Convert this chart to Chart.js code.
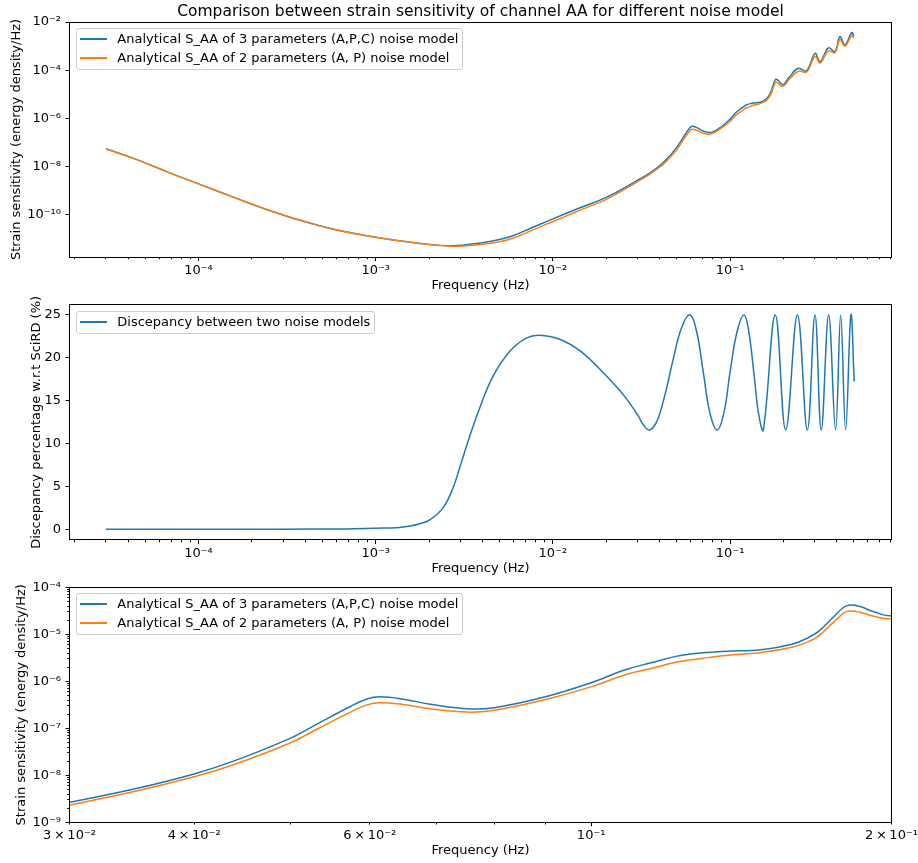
<!DOCTYPE html>
<html lang="en">
<head>
  <meta charset="UTF-8">
  <title>Strain sensitivity of channel AA</title>
  <script src="https://cdn.jsdelivr.net/npm/chart.js"></script>
  <style>
    body { margin: 0; background: #fff; font-family: 'DejaVu Sans', sans-serif; }
    #fig { position: relative; width: 918px; height: 863px; }
    canvas { position: absolute; left: 0; }
    .legend { position: absolute; left: 76px; box-sizing: border-box; border: 1px solid #ccc; border-radius: 3px; background: rgba(255,255,255,0.8); padding: 0 4px 2px 3px; z-index: 2; }
    .legend .item { display: flex; align-items: center; height: 19px; white-space: nowrap; font-size: 13px; color: #000; }
    .legend .item i { display: block; width: 27px; height: 2px; margin-right: 10.3px; }
  </style>
</head>
<body>
  <div id="fig">
    <canvas id="c1" width="918" height="295" style="top:0"></canvas>
    <canvas id="c2" width="918" height="283" style="top:295px"></canvas>
    <canvas id="c3" width="918" height="285" style="top:578px"></canvas>
    <div class="legend" id="lg1" style="top:28px"></div>
    <div class="legend" id="lg2" style="top:311px"></div>
    <div class="legend" id="lg3" style="top:593px"></div>
  </div>

  <script>
    // frequency grid (Hz)
    const freq = [3e-5, 4.3e-5, 6.6e-5, 1e-4, 1.57e-4, 2.4e-4, 3.7e-4, 5.7e-4, 1e-3, 1.7e-3,
      2.7e-3, 4e-3, 5e-3, 6e-3, 7.5e-3, 1e-2, 1.4e-2, 2e-2, 3e-2, 3.5e-2,
      4e-2, 4.38e-2, 4.99e-2, 5.31e-2, 5.73e-2, 5.96e-2, 6.14e-2, 6.5e-2, 6.9e-2, 7.5e-2,
      8e-2, 9e-2, 0.1, 0.108, 0.1151, 0.1216, 0.1259, 0.131, 0.1365, 0.148,
      0.159, 0.1646, 0.169, 0.175, 0.179, 0.1813, 0.186, 0.192, 0.2, 0.215,
      0.243, 0.27, 0.302, 0.322, 0.359, 0.39, 0.417, 0.445, 0.486, 0.5];

    // S_AA, 3 parameter model (A,P,C)
    const saa3 = [5.50e-8, 2.19e-8, 6.17e-9, 1.91e-9, 5.37e-10, 1.70e-10, 6.03e-11, 2.57e-11, 1.17e-11, 6.76e-12,
      5.13e-12, 6.92e-12, 9.33e-12, 1.38e-11, 2.75e-11, 6.76e-11, 1.86e-10, 5.25e-10, 2.67e-9, 5.25e-9,
      1.07e-8, 2.00e-8, 6.12e-8, 1.23e-7, 2.88e-7, 4.20e-7, 4.68e-7, 4.12e-7, 3.24e-7, 2.60e-7,
      2.75e-7, 4.68e-7, 9.33e-7, 1.74e-6, 2.51e-6, 3.39e-6, 3.80e-6, 4.12e-6, 4.37e-6, 4.68e-6,
      6.17e-6, 8.22e-6, 1.15e-5, 2.37e-5, 3.72e-5, 4.17e-5, 3.89e-5, 3.02e-5, 2.51e-5, 5.01e-5,
      1.20e-4, 9.33e-5, 5.01e-4, 2.24e-4, 8.51e-4, 5.89e-4, 2.45e-3, 1.12e-3, 3.63e-3, 2.63e-3];

    // S_AA, 2 parameter model (A, P)
    const saa2 = [5.50e-8, 2.19e-8, 6.17e-9, 1.91e-9, 5.37e-10, 1.70e-10, 6.03e-11, 2.57e-11, 1.16e-11, 6.71e-12,
      4.88e-12, 5.92e-12, 7.53e-12, 1.09e-11, 2.14e-11, 5.25e-11, 1.47e-10, 4.33e-10, 2.33e-9, 4.63e-9,
      9.33e-9, 1.67e-8, 4.86e-8, 9.55e-8, 2.18e-7, 3.15e-7, 3.51e-7, 3.17e-7, 2.61e-7, 2.21e-7,
      2.42e-7, 4.09e-7, 7.62e-7, 1.36e-6, 1.90e-6, 2.54e-6, 2.87e-6, 3.19e-6, 3.56e-6, 4.09e-6,
      5.30e-6, 6.82e-6, 9.18e-6, 1.82e-5, 2.80e-5, 3.13e-5, 2.96e-5, 2.42e-5, 2.17e-5, 4.01e-5,
      9.02e-5, 8.26e-5, 3.76e-4, 1.97e-4, 6.38e-4, 5.21e-4, 1.85e-3, 9.93e-4, 2.72e-3, 2.18e-3];

    // discrepancy (%) between the two models
    const freqDisc = [3e-5, 1e-4, 3e-4, 7e-4, 1e-3, 1.36e-3, 1.6e-3, 1.77e-3, 2.02e-3, 2.4e-3,
      2.73e-3, 2.98e-3, 3.39e-3, 3.86e-3, 4.59e-3, 5.7e-3, 7.08e-3, 8.4e-3, 1.1e-2, 1.43e-2,
      1.85e-2, 2.4e-2, 2.73e-2, 3.03e-2, 3.27e-2, 3.5e-2, 3.78e-2, 4.03e-2, 4.39e-2, 4.79e-2,
      5.33e-2, 5.95e-2, 6.48e-2, 7.06e-2, 7.71e-2, 8.45e-2, 9.22e-2, 0.1, 0.1095, 0.12,
      0.1276, 0.1361, 0.1448, 0.154, 0.18, 0.206, 0.24, 0.273, 0.3015, 0.327,
      0.36, 0.394, 0.421, 0.449, 0.481, 0.502];
    const disc = [0, 0, 0.01, 0.05, 0.12, 0.22, 0.42, 0.65, 1.1, 2.5,
      4.8, 7.2, 10.8, 14.1, 17.8, 20.7, 22.25, 22.6, 22.1, 20.75,
      18.6, 16.1, 14.6, 13.2, 12.05, 11.57, 12.2, 13.6, 16.5, 19.9,
      23.5, 24.96, 23.0, 18.3, 13.5, 11.57, 13.5, 18.3, 23.0, 24.96,
      23.0, 18.3, 13.5, 11.57, 24.96, 11.57, 24.96, 11.57, 24.96, 11.57,
      24.96, 11.57, 24.96, 11.57, 24.96, 17.2];

    const seriesNames = ['Analytical S_AA of 3 parameters (A,P,C) noise model',
      'Analytical S_AA of 2 parameters (A, P) noise model'];
    const discName = 'Discepancy between two noise models';

    // tick labels
    const topXTicks = [1e-4, 1e-3, 1e-2, 1e-1];
    const topXLabels = ['10⁻⁴', '10⁻³', '10⁻²', '10⁻¹'];
    const topYTicks = [1e-10, 1e-8, 1e-6, 1e-4, 1e-2];
    const topYLabels = ['10⁻¹⁰', '10⁻⁸', '10⁻⁶', '10⁻⁴', '10⁻²'];
    const midYTicks = [0, 5, 10, 15, 20, 25];
    const midYLabels = ['0', '5', '10', '15', '20', '25'];
    const botXTicks = [0.03, 0.04, 0.06, 0.1, 0.2];
    const botXLabels = ['3\u2009×\u200910⁻²', '4\u2009×\u200910⁻²', '6\u2009×\u200910⁻²', '10⁻¹', '2\u2009×\u200910⁻¹'];
    const botYTicks = [1e-9, 1e-8, 1e-7, 1e-6, 1e-5, 1e-4];
    const botYLabels = ['10⁻⁹', '10⁻⁸', '10⁻⁷', '10⁻⁶', '10⁻⁵', '10⁻⁴'];

    const BLUE = '#1f77b4', ORANGE = '#ff7f0e';
    Chart.defaults.font.family = 'DejaVu Sans';
    Chart.defaults.font.size = 13;
    Chart.defaults.color = '#000';

    const pts = (xs, ys) => xs.map((x, i) => ({ x: x, y: ys[i] }));

    function logMinors(min, max, skip) {
      const out = [];
      for (let e = Math.floor(Math.log10(min)); e <= Math.ceil(Math.log10(max)); e++) {
        for (let m = 2; m <= 9; m++) {
          const v = m * Math.pow(10, e);
          if (v >= min && v <= max && !skip.some(s => Math.abs(s / v - 1) < 1e-6)) out.push(v);
        }
      }
      return out;
    }

    function tickList(vals, labels, minors, isMajor) {
      const t = vals.map((v, i) => ({ value: v, txt: labels[i], major: isMajor(v) }));
      minors.forEach(v => t.push({ value: v, txt: '', major: false }));
      return t.sort((a, b) => a.value - b.value);
    }

    function xAxis(type, min, max, ticks, height, titlePad) {
      return {
        type: type, min: min, max: max,
        afterBuildTicks: s => { s.ticks = ticks.map(t => Object.assign({}, t)); },
        afterFit: s => { s.height = height; s.paddingLeft = 0; s.paddingRight = 0; },
        grid: { display: false, drawTicks: false },
        border: { display: false },
        ticks: { autoSkip: false, maxRotation: 0, minRotation: 0, padding: 5.5, color: '#000',
          callback: (v, i, arr) => arr[i].txt },
        title: { display: true, text: 'Frequency (Hz)', color: '#000', font: { size: 13, lineHeight: 1.2 },
          padding: { top: 0, bottom: titlePad } }
      };
    }

    function yAxis(type, min, max, ticks, label, titlePad) {
      return {
        type: type, min: min, max: max,
        afterBuildTicks: s => { s.ticks = ticks.map(t => Object.assign({}, t)); },
        afterFit: s => { s.width = 69.5; s.paddingTop = 0; s.paddingBottom = 0; },
        grid: { display: false, drawTicks: false },
        border: { display: false },
        ticks: { autoSkip: false, padding: 8.5, color: '#000', callback: (v, i, arr) => arr[i].txt },
        title: { display: true, text: label, color: '#000', font: { size: 13, lineHeight: 1.2 },
          padding: { top: titlePad, bottom: 0 } }
      };
    }

    // matplotlib-like frame and outward tick marks
    const frame = {
      id: 'frame',
      afterDraw(chart) {
        const ctx = chart.ctx, a = chart.chartArea;
        const xs = chart.scales.x, ys = chart.scales.y;
        ctx.save();
        ctx.strokeStyle = '#000';
        ctx.lineWidth = 1;
        ctx.beginPath();
        xs.ticks.forEach(t => {
          const p = Math.floor(xs.getPixelForValue(t.value)) + 0.5;
          ctx.moveTo(p, a.bottom);
          ctx.lineTo(p, a.bottom + (t.major ? 4 : 2.2));
        });
        ys.ticks.forEach(t => {
          const p = Math.floor(ys.getPixelForValue(t.value)) + 0.5;
          ctx.moveTo(a.left, p);
          ctx.lineTo(a.left - (t.major ? 4 : 2.2), p);
        });
        ctx.stroke();
        ctx.strokeRect(Math.floor(a.left) + 0.5, Math.floor(a.top) + 0.5,
          Math.round(a.right - a.left), Math.round(a.bottom - a.top));
        ctx.restore();
      }
    };

    function lineSet(label, data, color, order) {
      return { label: label, data: data, borderColor: color, backgroundColor: color, borderWidth: 1.5,
        pointRadius: 0, tension: 0.4, fill: false, order: order };
    }

    function baseOptions(scales, padTop, title) {
      return {
        responsive: false, animation: false, events: [],
        layout: { padding: { left: 0, right: 26.5, top: padTop, bottom: 0 } },
        plugins: {
          legend: { display: false },
          tooltip: { enabled: false },
          title: title || { display: false }
        },
        scales: scales
      };
    }

    function buildLegend(id, sets) {
      const el = document.getElementById(id);
      sets.forEach(s => {
        const row = document.createElement('div');
        row.className = 'item';
        row.innerHTML = '<i style="background:' + s.borderColor + '"></i><span>' + s.label + '</span>';
        el.appendChild(row);
      });
    }

    // top panel: full spectrum
    const xTopMin = 1.87e-5, xTopMax = 0.815;
    const topX = tickList(topXTicks, topXLabels, logMinors(xTopMin, xTopMax, topXTicks), () => true);
    const topY = tickList(topYTicks, topYLabels, [], () => true);
    const sets1 = [lineSet(seriesNames[0], pts(freq, saa3), BLUE, 1), lineSet(seriesNames[1], pts(freq, saa2), ORANGE, 0)];
    new Chart(document.getElementById('c1'), {
      type: 'line',
      data: { datasets: sets1 },
      options: baseOptions({
        x: xAxis('logarithmic', xTopMin, xTopMax, topX, 38, 1.7),
        y: yAxis('logarithmic', 1.76e-12, 1e-2, topY, 'Strain sensitivity (energy density/Hz)', 8.9)
      }, 0, {
        display: true, fullSize: false, color: '#000',
        text: 'Comparison between strain sensitivity of channel AA for different noise model',
        font: { size: 15.5, weight: 'normal', lineHeight: 1.2 },
        padding: { top: 2.2, bottom: 1.2 }
      }),
      plugins: [frame]
    });
    buildLegend('lg1', sets1);

    // middle panel: discrepancy
    const midY = tickList(midYTicks, midYLabels, [], () => true);
    const sets2 = [lineSet(discName, pts(freqDisc, disc), BLUE, 0)];
    new Chart(document.getElementById('c2'), {
      type: 'line',
      data: { datasets: sets2 },
      options: baseOptions({
        x: xAxis('logarithmic', xTopMin, xTopMax, topX, 38, 1.9),
        y: yAxis('linear', -1.245, 26.15, midY, 'Discepancy percentage w.r.t SciRD (%)', 28.9)
      }, 9.7),
      plugins: [frame]
    });
    buildLegend('lg2', sets2);

    // bottom panel: zoom on 0.03 - 0.2 Hz
    const botX = tickList(botXTicks, botXLabels, logMinors(0.03, 0.2, botXTicks), v => v === 0.1);
    const botY = tickList(botYTicks, botYLabels, logMinors(1e-9, 1e-4, botYTicks), () => true);
    const sets3 = [lineSet(seriesNames[0], pts(freq, saa3), BLUE, 1), lineSet(seriesNames[1], pts(freq, saa2), ORANGE, 0)];
    new Chart(document.getElementById('c3'), {
      type: 'line',
      data: { datasets: sets3 },
      options: baseOptions({
        x: xAxis('logarithmic', 0.03, 0.2, botX, 40.7, 4.2),
        y: yAxis('logarithmic', 1e-9, 1e-4, botY, 'Strain sensitivity (energy density/Hz)', 14.2)
      }, 9.3),
      plugins: [frame]
    });
    buildLegend('lg3', sets3);
  </script>
</body>
</html>
